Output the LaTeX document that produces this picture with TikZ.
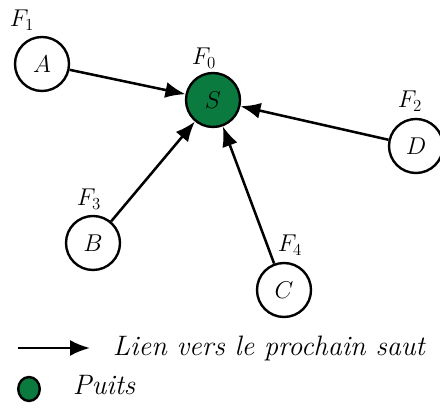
\documentclass[tikz,border=0pt]{standalone}
\usepackage{amsmath,xcolor}
\usetikzlibrary{arrows.meta}
\definecolor{puitsgreen}{RGB}{11,122,62}
\tikzset{
  capteur/.style={circle,draw,line width=1.7pt,minimum size=1.35cm,inner sep=0pt,font=\fontsize{19}{23}\selectfont},
  lien/.style={line width=1.8pt,-{Latex[length=5mm,width=4mm]}},
  nom/.style={font=\fontsize{20}{24}\selectfont},
  freq/.style={font=\fontsize{17}{20}\selectfont}
}
\begin{document}
\begin{tikzpicture}
  \useasboundingbox (0,0) rectangle (11,10.25);
  % puits
  \node[capteur,fill=puitsgreen] (S) at (5.325,7.75) {$S$};
  \node[freq] (f0) at (5.1,8.8) {$F_0$};
  % A
  \node[capteur] (A) at (1.05,8.65) {$A$};
  \node[freq] (f1) at (0.55,9.75) {$F_1$};
  % D
  \node[capteur] (D) at (10.4,6.6) {$D$};
  \node[freq] (f2) at (10.25,7.725) {$F_2$};
  % B
  \node[capteur] (B) at (2.325,4.175) {$B$};
  \node[freq] (f3) at (2.225,5.275) {$F_3$};
  % C
  \node[capteur] (C) at (7.1,3.0) {$C$};
  \node[freq] (f4) at (7.25,4.125) {$F_4$};
  % liens
  \draw[lien] (A) -- (S);
  \draw[lien] (D) -- (S);
  \draw[lien] (B) -- (S);
  \draw[lien] (C) -- (S);
  % legende
  \coordinate (l1) at (0.45,1.55);
  \coordinate (l2) at (2.25,1.55);
  \draw[lien] (l1) -- (l2);
  \node[nom,anchor=west] (tl) at (2.7,1.55) {\textit{Lien vers le prochain saut}};
  \fill[puitsgreen,draw=black,line width=1.7pt] (0.725,0.525) ellipse (0.27 and 0.3);
  \node[nom,anchor=west] (tp) at (1.7,0.62) {\textit{Puits}};
\end{tikzpicture}
\end{document}
